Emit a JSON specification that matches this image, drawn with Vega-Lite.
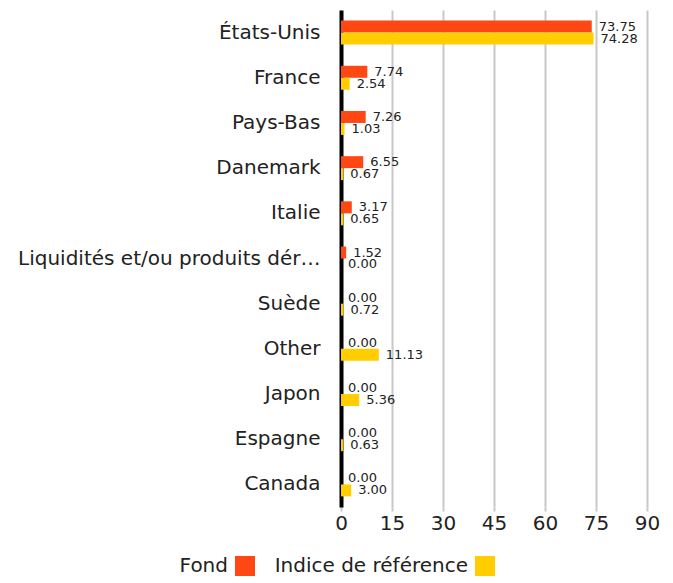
{
  "$schema": "https://vega.github.io/schema/vega-lite/v6.json",
  "width": 306,
  "height": 497,
  "autosize": {"type": "none"},
  "padding": {"left": 341, "top": 10, "right": 26, "bottom": 76},
  "config": {
    "font": "DejaVu Sans",
    "view": {"stroke": null}
  },
  "data": {
    "values": [
      {"pays": "États-Unis", "serie": "Fond", "valeur": 73.75},
      {"pays": "États-Unis", "serie": "Indice de référence", "valeur": 74.28},
      {"pays": "France", "serie": "Fond", "valeur": 7.74},
      {"pays": "France", "serie": "Indice de référence", "valeur": 2.54},
      {"pays": "Pays-Bas", "serie": "Fond", "valeur": 7.26},
      {"pays": "Pays-Bas", "serie": "Indice de référence", "valeur": 1.03},
      {"pays": "Danemark", "serie": "Fond", "valeur": 6.55},
      {"pays": "Danemark", "serie": "Indice de référence", "valeur": 0.67},
      {"pays": "Italie", "serie": "Fond", "valeur": 3.17},
      {"pays": "Italie", "serie": "Indice de référence", "valeur": 0.65},
      {"pays": "Liquidités et/ou produits dérivés", "serie": "Fond", "valeur": 1.52},
      {"pays": "Liquidités et/ou produits dérivés", "serie": "Indice de référence", "valeur": 0.0},
      {"pays": "Suède", "serie": "Fond", "valeur": 0.0},
      {"pays": "Suède", "serie": "Indice de référence", "valeur": 0.72},
      {"pays": "Other", "serie": "Fond", "valeur": 0.0},
      {"pays": "Other", "serie": "Indice de référence", "valeur": 11.13},
      {"pays": "Japon", "serie": "Fond", "valeur": 0.0},
      {"pays": "Japon", "serie": "Indice de référence", "valeur": 5.36},
      {"pays": "Espagne", "serie": "Fond", "valeur": 0.0},
      {"pays": "Espagne", "serie": "Indice de référence", "valeur": 0.63},
      {"pays": "Canada", "serie": "Fond", "valeur": 0.0},
      {"pays": "Canada", "serie": "Indice de référence", "valeur": 3.0}
    ]
  },
  "encoding": {
    "y": {
      "field": "pays",
      "type": "nominal",
      "sort": null,
      "title": null,
      "scale": {"paddingInner": 0.47, "paddingOuter": 0.235},
      "axis": {
        "domainColor": "#000000",
        "domainWidth": 4,
        "ticks": false,
        "labelFontSize": 20,
        "labelColor": "#222222",
        "labelPadding": 21,
        "labelLimit": 306,
        "grid": false
      }
    },
    "yOffset": {"field": "serie", "type": "nominal", "sort": ["Fond", "Indice de référence"]},
    "x": {
      "field": "valeur",
      "type": "quantitative",
      "title": null,
      "scale": {"domain": [0, 90], "nice": false},
      "axis": {
        "values": [0, 15, 30, 45, 60, 75, 90],
        "domain": false,
        "grid": true,
        "gridColor": "#c8c8c8",
        "gridWidth": 2,
        "tickColor": "#c8c8c8",
        "tickWidth": 2,
        "tickSize": 4,
        "labelFontSize": 20,
        "labelColor": "#222222",
        "labelPadding": 2,
        "labelFlush": false
      }
    }
  },
  "layer": [
    {
      "mark": {"type": "bar"},
      "encoding": {
        "color": {
          "field": "serie",
          "type": "nominal",
          "scale": {"domain": ["Fond", "Indice de référence"], "range": ["#ff4713", "#ffcd00"]},
          "legend": {
            "title": null,
            "orient": "none",
            "direction": "horizontal",
            "legendX": -106,
            "legendY": 546,
            "symbolType": "square",
            "symbolSize": 400,
            "symbolStrokeWidth": 0,
            "labelFontSize": 20,
            "labelColor": "#222222",
            "labelAlign": "right",
            "labelOffset": -27,
            "columnPadding": 19,
            "labelLimit": 300
          }
        }
      }
    },
    {
      "mark": {"type": "text", "align": "left", "baseline": "middle", "dx": 7, "fontSize": 13, "color": "#222222"},
      "encoding": {
        "text": {"field": "valeur", "type": "quantitative", "format": ".2f"}
      }
    }
  ]
}
